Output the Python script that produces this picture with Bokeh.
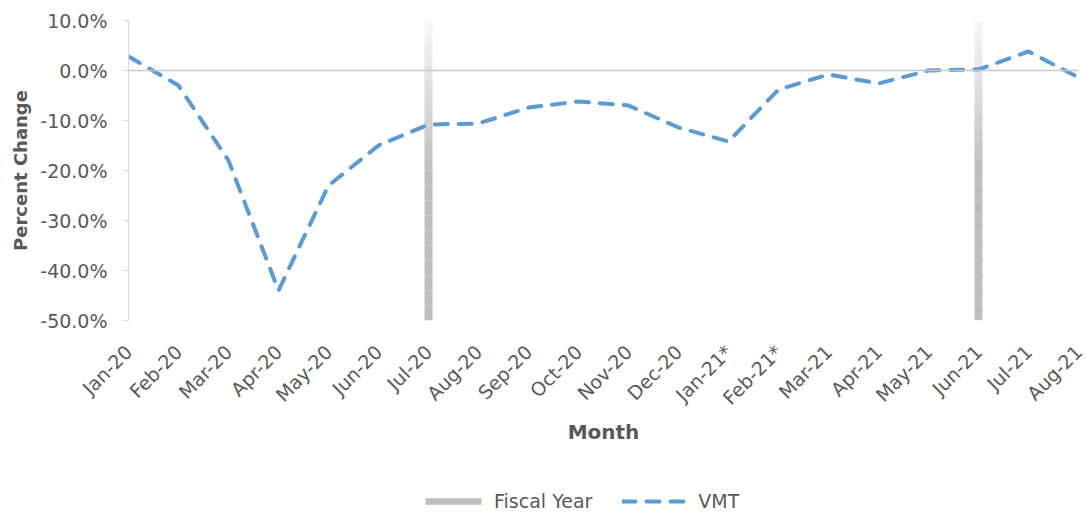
import math
from bokeh.plotting import figure
from bokeh.layouts import column
from bokeh.models import FixedTicker, Span, Legend, LegendItem, ColumnDataSource, Range1d
from bokeh.embed import file_html
from bokeh.resources import INLINE

# ---- data ----
months = ["Jan-20", "Feb-20", "Mar-20", "Apr-20", "May-20", "Jun-20", "Jul-20", "Aug-20",
          "Sep-20", "Oct-20", "Nov-20", "Dec-20", "Jan-21*", "Feb-21*", "Mar-21", "Apr-21",
          "May-21", "Jun-21", "Jul-21", "Aug-21"]
vmt = [2.8, -3.0, -18.0, -44.0, -23.0, -15.0, -10.8, -10.6, -7.4, -6.2, -7.0, -11.4,
       -14.2, -3.8, -0.8, -2.6, 0.0, 0.2, 3.8, -1.4]
fiscal_year_months = ["Jul-20", "Jun-21"]
fiscal_top = 10.0
fiscal_bottom = -50.0
y_ticks = [-50, -40, -30, -20, -10, 0, 10]

TEXT = "#595959"
FONT = "DejaVu Sans"
BLUE = "#5B9BD5"
GRAY = "#bebebe"

# gradient bars for fiscal year markers (built from the data above)
n_seg = 40
fx, ftop, fbot, fcol = [], [], [], []
for m in fiscal_year_months:
    xi = months.index(m)
    step = (fiscal_top - fiscal_bottom) / n_seg
    for k in range(n_seg):
        top = fiscal_top - k * step
        bot = top - step
        t = (k + 0.5) / n_seg
        f = min(t / 0.5, 1.0)
        g = int(round(248 + (190 - 248) * f))
        fx.append(xi)
        ftop.append(top)
        fbot.append(bot)
        fcol.append("#%02x%02x%02x" % (g, g, g))
bar_src = ColumnDataSource(dict(x=fx, top=ftop, bottom=fbot, color=fcol))
line_src = ColumnDataSource(dict(x=list(range(len(months))), y=vmt))

p = figure(width=1086, height=470, output_backend="svg", toolbar_location=None,
           x_range=Range1d(0, len(months) - 1), y_range=Range1d(fiscal_bottom, fiscal_top),
           min_border_left=128, min_border_right=8, min_border_top=20, min_border_bottom=150)
p.outline_line_color = None
p.xgrid.visible = False
p.ygrid.visible = False

bar_r = p.vbar(x="x", top="top", bottom="bottom", width=0.16, fill_color="color",
               line_color=None, source=bar_src)
p.add_layout(Span(location=0, dimension="width", line_color="#c8c8c8", line_width=1.5))
line_r = p.line("x", "y", source=line_src, line_color=BLUE, line_width=4,
                line_dash="13 11", line_cap="round", line_join="round")

# y axis
ya = p.yaxis[0]
ya.ticker = FixedTicker(ticks=y_ticks)
ya.major_label_overrides = {t: f"{t:.1f}%" for t in y_ticks}
ya.axis_line_color = "#d9d9d9"
ya.major_tick_line_color = "#d9d9d9"
ya.major_tick_out = 5
ya.major_tick_in = 0
ya.minor_tick_line_color = None
ya.major_label_standoff = 16
ya.major_label_text_font = FONT
ya.major_label_text_font_size = "19px"
ya.major_label_text_color = TEXT
ya.axis_label = "Percent Change"
ya.axis_label_text_font = FONT
ya.axis_label_text_font_size = "18px"
ya.axis_label_text_font_style = "bold"
ya.axis_label_text_color = TEXT
ya.axis_label_standoff = 6

# x axis
xa = p.xaxis[0]
xa.ticker = FixedTicker(ticks=list(range(len(months))))
xa.major_label_overrides = {i: m for i, m in enumerate(months)}
xa.major_label_orientation = math.pi / 4
xa.axis_line_color = None
xa.major_tick_line_color = None
xa.minor_tick_line_color = None
xa.major_tick_out = 0
xa.major_label_standoff = 28
xa.major_label_text_font = FONT
xa.major_label_text_font_size = "19px"
xa.major_label_text_color = TEXT
xa.axis_label = "Month"
xa.axis_label_text_font = FONT
xa.axis_label_text_font_size = "20px"
xa.axis_label_text_font_style = "bold"
xa.axis_label_text_color = TEXT
xa.axis_label_standoff = 0

# legend strip below the chart (its renderers reuse the chart's sources, out of view)
lg = figure(width=1086, height=42, output_backend="svg", toolbar_location=None,
            x_range=Range1d(0, len(months) - 1), y_range=Range1d(1000, 1001),
            min_border_left=128, min_border_right=8, min_border_top=0, min_border_bottom=0)
lg.outline_line_color = None
lg.axis.visible = False
lg.grid.visible = False
leg_bar = lg.vbar(x="x", top="top", bottom="bottom", width=0.16, fill_color=GRAY,
                  line_color=None, source=bar_src)
leg_line = lg.line("x", "y", source=line_src, line_color=BLUE, line_width=4,
                   line_dash="13 11", line_cap="round")
legend = Legend(items=[LegendItem(label="Fiscal Year", renderers=[leg_bar], index=0),
                       LegendItem(label="VMT", renderers=[leg_line])],
                location=(290, 0), orientation="horizontal",
                glyph_width=70, glyph_height=8, padding=0, margin=0, spacing=30,
                label_standoff=6,
                label_text_font=FONT, label_text_font_size="19px", label_text_color=TEXT,
                border_line_color=None, background_fill_alpha=0)
lg.add_layout(legend, "center")

layout = column(p, lg, spacing=0)
open("out.html", "w").write(file_html(layout, INLINE))
